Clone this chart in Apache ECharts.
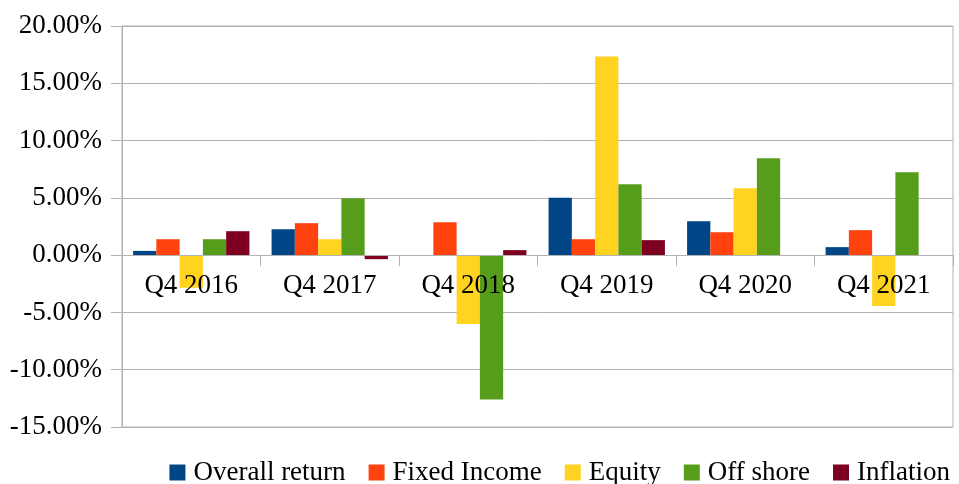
<!DOCTYPE html>
<html>
<head>
<meta charset="utf-8">
<script src="https://cdn.jsdelivr.net/npm/echarts@6/dist/echarts.min.js"></script>
<style>
  html, body { margin: 0; padding: 0; background: #fff; }
  #container { width: 959px; height: 484px; }
</style>
</head>
<body>
<div id="container"></div>
<script>
var categories = ['Q4 2016', 'Q4 2017', 'Q4 2018', 'Q4 2019', 'Q4 2020', 'Q4 2021'];
var overallReturn = [0.37, 2.26, -0.05, 5.0, 2.96, 0.7];
var fixedIncome = [1.39, 2.79, 2.87, 1.39, 2.0, 2.18];
var equity = [-2.85, 1.39, -6.0, 17.33, 5.84, -4.44];
var offShore = [1.39, 4.97, -12.6, 6.18, 8.45, 7.23];
var inflation = [2.09, -0.35, 0.44, 1.31, -0.05, -0.05];

var seriesNames = ['Overall return', 'Fixed Income', 'Equity', 'Off shore', 'Inflation'];
var seriesData = [overallReturn, fixedIncome, equity, offShore, inflation];
var colors = ['#004586', '#ff420e', '#ffd320', '#579d1c', '#7e0021'];

var font = '"Liberation Serif", "DejaVu Serif", serif';
var gridColor = '#b3b3b3';

// y range and grid size, the x axis is moved up to the zero line
var yMin = -15, yMax = 20;
var gridTop = 26, gridBottom = 57;
var plotHeight = 484 - gridTop - gridBottom;
var zeroOffset = -plotHeight * (0 - yMin) / (yMax - yMin);

var chart = echarts.init(document.getElementById('container'));
chart.setOption({
    animation: false,
    backgroundColor: '#ffffff',
    color: colors,
    textStyle: { fontFamily: font },
    grid: {
        left: 122,
        right: 6,
        top: gridTop,
        bottom: gridBottom,
        show: true,
        borderColor: gridColor,
        borderWidth: 1
    },
    legend: {
        right: 4,
        top: 454,
        icon: 'rect',
        itemWidth: 16,
        itemHeight: 16,
        itemGap: 23,
        textStyle: { fontFamily: font, fontSize: 27, color: '#000', padding: [0, 0, 0, 3] },
        data: seriesNames
    },
    xAxis: {
        type: 'category',
        data: categories,
        position: 'bottom',
        offset: zeroOffset,
        z: 5,
        axisLine: { onZero: false, lineStyle: { color: gridColor } },
        axisTick: { show: true, length: 11, lineStyle: { color: gridColor } },
        axisLabel: { fontFamily: font, fontSize: 27, color: '#000', margin: 17 }
    },
    yAxis: {
        type: 'value',
        min: yMin,
        max: yMax,
        interval: 5,
        axisLine: { show: true, lineStyle: { color: gridColor } },
        axisTick: { show: true, length: 11, lineStyle: { color: gridColor } },
        splitLine: { lineStyle: { color: gridColor } },
        axisLabel: {
            fontFamily: font,
            fontSize: 27,
            color: '#000',
            margin: 20,
            formatter: function (v) { return v.toFixed(2) + '%'; }
        }
    },
    series: seriesNames.map(function (name, i) {
        return {
            name: name,
            type: 'bar',
            data: seriesData[i],
            barGap: '0%',
            barCategoryGap: '16%'
        };
    })
});
</script>
</body>
</html>
